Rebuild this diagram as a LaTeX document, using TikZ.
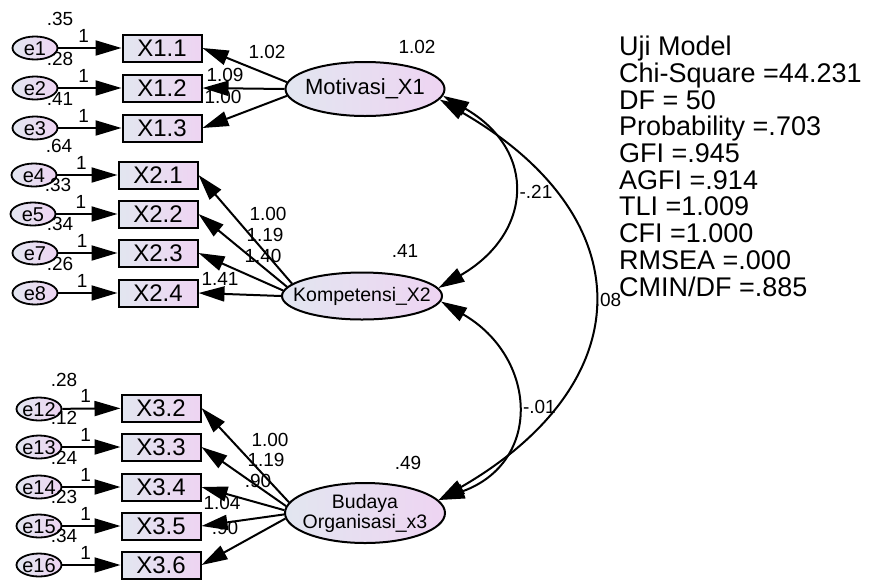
\documentclass[tikz,border=0pt]{standalone}
\usepackage{fontspec}
\setmainfont{Liberation Sans}
\usetikzlibrary{shapes.geometric,arrows.meta}

\definecolor{shadeleft}{RGB}{226,230,240}
\definecolor{shaderight}{RGB}{238,212,242}

\tikzset{
  obsbox/.style={draw, line width=2pt, left color=shadeleft, right color=shaderight,
    minimum width=79pt, minimum height=27pt, inner sep=0pt,
    font=\fontsize{24}{26}\selectfont},
  errell/.style={ellipse, draw, line width=1.8pt, left color=shadeleft, right color=shaderight,
    minimum width=45pt, minimum height=23pt, inner sep=-1pt, text height=14pt, text depth=0pt,
    font=\fontsize{20}{22}\selectfont},
  latell/.style={ellipse, draw, line width=2pt, left color=shadeleft, right color=shaderight,
    inner sep=-14pt, align=center},
  num/.style={inner sep=0pt, font=\fontsize{19}{21}\selectfont},
  arr/.style={line width=2pt, -{Triangle[length=26pt,width=15pt]}},
  cov/.style={line width=2pt, {Triangle[length=26pt,width=15pt]}-{Triangle[length=26pt,width=15pt]}},
}

\begin{document}
\begin{tikzpicture}[x=1pt, y=-1pt]
	\useasboundingbox (0,0) rectangle (869,579);
	
	% latent variables
	\node[latell, minimum width=159pt, minimum height=54pt, font=\fontsize{22}{24}\selectfont] (mot) at (365,89) {Motivasi\_X1};
	\node[latell, minimum width=160pt, minimum height=47pt, font=\fontsize{19.5}{20}\selectfont] (kom) at (362,296) {Kompetensi\_X2};
	\node[latell, minimum width=160pt, minimum height=60pt, font=\fontsize{19.5}{20}\selectfont] (bud) at (365,513) {Budaya\\Organisasi\_x3};
	
	\node[num] (vmot) at (417,47) {1.02};
	\node[num] (vkom) at (405,251) {.41};
	\node[num] (vbud) at (408,463) {.49};
	
	% indicators
	\node[obsbox] (x11) at (162,48) {X1.1};
	\node[obsbox] (x12) at (162,88) {X1.2};
	\node[obsbox] (x13) at (162,128) {X1.3};
	\node[obsbox] (x21) at (158,175) {X2.1};
	\node[obsbox] (x22) at (158,214) {X2.2};
	\node[obsbox] (x23) at (158,253) {X2.3};
	\node[obsbox] (x24) at (158,293) {X2.4};
	\node[obsbox] (x32) at (161,408) {X3.2};
	\node[obsbox] (x33) at (161,447) {X3.3};
	\node[obsbox] (x34) at (161,487) {X3.4};
	\node[obsbox] (x35) at (161,526) {X3.5};
	\node[obsbox] (x36) at (161,565) {X3.6};
	
	% error terms
	\node[errell] (e1) at (35,48) {e1};
	\node[errell] (e2) at (35,88) {e2};
	\node[errell] (e3) at (35,128) {e3};
	\node[errell] (e4) at (34,175) {e4};
	\node[errell] (e5) at (33,214) {e5};
	\node[errell] (e7) at (35,253) {e7};
	\node[errell] (e8) at (35,293) {e8};
	\node[errell] (e12) at (39,409) {e12};
	\node[errell] (e13) at (39,447) {e13};
	\node[errell] (e14) at (39,487) {e14};
	\node[errell] (e15) at (39,526) {e15};
	\node[errell] (e16) at (39,565) {e16};
	
	% error variances
	\path (e1) ++(25,-29) node[num] (ve1) {.35};
	\path (e2) ++(25,-29) node[num] (ve2) {.28};
	\path (e3) ++(25,-29) node[num] (ve3) {.41};
	\path (e4) ++(25,-29) node[num] (ve4) {.64};
	\path (e5) ++(25,-29) node[num] (ve5) {.33};
	\path (e7) ++(25,-29) node[num] (ve7) {.34};
	\path (e8) ++(25,-29) node[num] (ve8) {.26};
	\path (e12) ++(25,-29) node[num] (ve12) {.28};
	\path (e13) ++(25,-29) node[num] (ve13) {.12};
	\path (e14) ++(25,-29) node[num] (ve14) {.24};
	\path (e15) ++(25,-29) node[num] (ve15) {.23};
	\path (e16) ++(25,-29) node[num] (ve16) {.34};
	
	% error paths
	\draw[arr] (e1) -- node[num, pos=0.4, above=5pt] (w1) {1} (x11);
	\draw[arr] (e2) -- node[num, pos=0.4, above=5pt] (w2) {1} (x12);
	\draw[arr] (e3) -- node[num, pos=0.4, above=5pt] (w3) {1} (x13);
	\draw[arr] (e4) -- node[num, pos=0.4, above=5pt] (w4) {1} (x21);
	\draw[arr] (e5) -- node[num, pos=0.4, above=5pt] (w5) {1} (x22);
	\draw[arr] (e7) -- node[num, pos=0.4, above=5pt] (w7) {1} (x23);
	\draw[arr] (e8) -- node[num, pos=0.4, above=5pt] (w8) {1} (x24);
	\draw[arr] (e12) -- node[num, pos=0.4, above=5pt] (w12) {1} (x32);
	\draw[arr] (e13) -- node[num, pos=0.4, above=5pt] (w13) {1} (x33);
	\draw[arr] (e14) -- node[num, pos=0.4, above=5pt] (w14) {1} (x34);
	\draw[arr] (e15) -- node[num, pos=0.4, above=5pt] (w15) {1} (x35);
	\draw[arr] (e16) -- node[num, pos=0.4, above=5pt] (w16) {1} (x36);
	
	% loadings
	\draw[arr] (mot.175) -- (x11.east);
	\draw[arr] (mot.180) -- (x12.east);
	\draw[arr] (mot.185) -- (x13.east);
	\draw[arr] (kom.170) -- (x21.east);
	\draw[arr] (kom.173) -- (x22.east);
	\draw[arr] (kom.176) -- (x23.east);
	\draw[arr] (kom.180) -- (x24.east);
	\draw[arr] (bud.172) -- (x32.east);
	\draw[arr] (bud.175) -- (x33.east);
	\draw[arr] (bud.178) -- (x34.east);
	\draw[arr] (bud.181) -- (x35.east);
	\draw[arr] (bud.184) -- (x36.east);
	
	\node[num] (l11) at (267,52) {1.02};
	\node[num] (l12) at (225,75) {1.09};
	\node[num] (l13) at (223,97) {1.00};
	\node[num] (l21) at (268,214) {1.00};
	\node[num] (l22) at (265,235) {1.19};
	\node[num] (l23) at (263,256) {1.40};
	\node[num] (l24) at (220,279) {1.41};
	\node[num] (l32) at (270,440) {1.00};
	\node[num] (l33) at (266,460) {1.19};
	\node[num] (l34) at (258,481) {.90};
	\node[num] (l35) at (222,503) {1.04};
	\node[num] (l36) at (225,528) {.90};
	
	% covariances
	\draw[cov] (mot.-5) to[out=-30, in=30, looseness=1.45] node[num, right=7pt] (c12) {-.21} (kom.6);
	\draw[cov] (kom.-4) to[out=-30, in=20, looseness=1.43] node[num, right=7pt] (c23) {-.01} (bud.10);
	\draw[cov] (mot.-8) to[out=-30, in=30, looseness=1.5] node[num, right=2pt] (c13) {.08} (bud.10);
	
	% fit indices
	\node[anchor=north west, align=left, inner sep=0pt, font=\fontsize{27}{26.7}\selectfont] (fit) at (619,36)
	  {Uji Model\\Chi-Square =44.231\\DF = 50\\Probability =.703\\GFI =.945\\AGFI =.914\\TLI =1.009\\CFI =1.000\\RMSEA =.000\\CMIN/DF =.885};
	
\end{tikzpicture}
\end{document}
